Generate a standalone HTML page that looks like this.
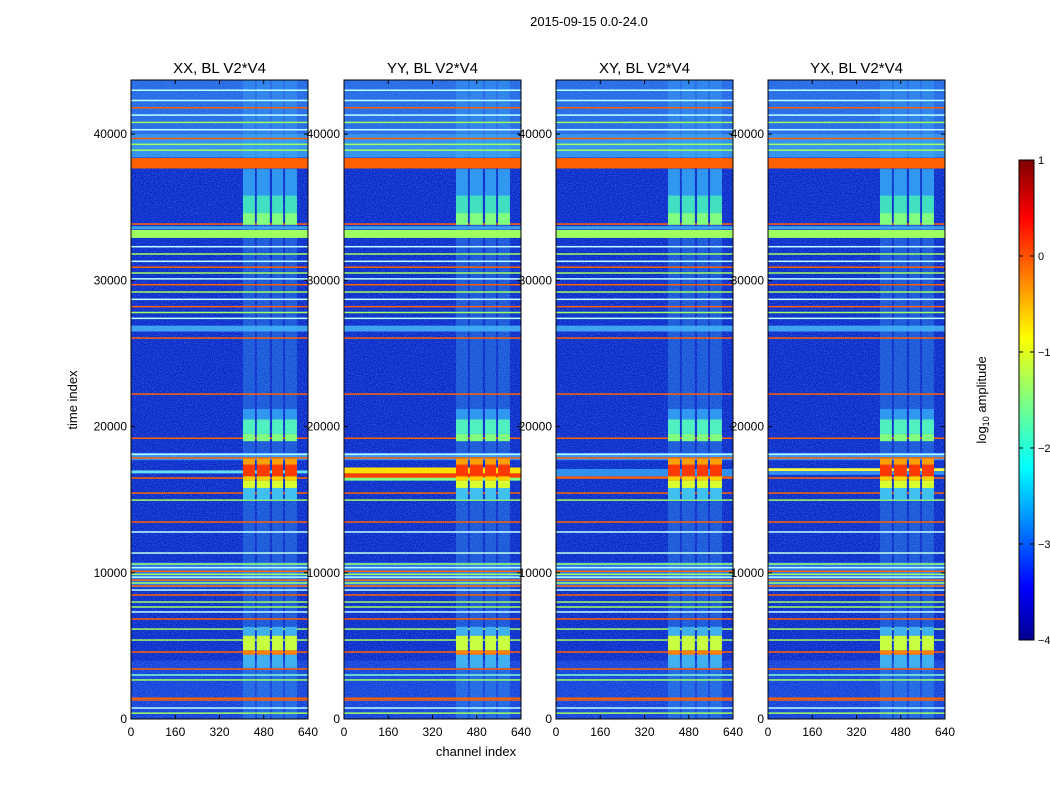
<!DOCTYPE html>
<html><head><meta charset="utf-8">
<style>
body{margin:0;background:#fff;font-family:"Liberation Sans",sans-serif;}
svg text{font-family:"Liberation Sans",sans-serif;}
</style></head>
<body>
<svg id="fig" width="1050" height="800" xmlns="http://www.w3.org/2000/svg">
<defs>
<linearGradient id="jet" x1="0" y1="1" x2="0" y2="0">
<stop offset="0" stop-color="#00008f"/><stop offset="0.11" stop-color="#0000ff"/>
<stop offset="0.36" stop-color="#00ffff"/><stop offset="0.5" stop-color="#80ff80"/>
<stop offset="0.63" stop-color="#ffff00"/><stop offset="0.88" stop-color="#ff0000"/>
<stop offset="1" stop-color="#800000"/></linearGradient>
<filter id="noise" x="0" y="0" width="1" height="1"><feTurbulence type="fractalNoise" baseFrequency="0.9" numOctaves="1" seed="3"/><feColorMatrix values="0 0 0 0 0.15  0 0 0 0 0.45  0 0 0 0 1  0 0 0 1.4 -0.55"/></filter>
</defs>
<text x="589" y="26" font-size="13" text-anchor="middle">2015-09-15 0.0-24.0</text>
<text x="476" y="756" font-size="13" text-anchor="middle">channel index</text>
<text transform="translate(77,400) rotate(-90)" font-size="13" text-anchor="middle">time index</text>
<g id="panels"></g>
<g>
<rect x="1019" y="160" width="15" height="480" fill="url(#jet)" stroke="#000" stroke-width="1"/>
<g id="cbticks"></g>
<text transform="translate(986,400) rotate(-90)" font-size="13" text-anchor="middle">log<tspan font-size="9" dy="3">10</tspan><tspan dy="-3"> amplitude</tspan></text>
</g>
</svg>
<script>
const panelTitles=["XX, BL V2*V4","YY, BL V2*V4","XY, BL V2*V4","YX, BL V2*V4"];
const panelLeft=[131,344,556,768];
const yTicks=[0,10000,20000,30000,40000];
const xTicks=[0,160,320,480,640];
const cbTicks=[1,0,-1,-2,-3,-4];
const bgRegions=[[0,43700,"#0a28c8"],[39000,43700,"#2468e4"],[38400,40000,"#3090ec"],[26500,26900,"#3aa0f0"],[9000,10700,"#2470e8"],[17700,18200,"#3090f0"],[0,4000,"#1440d8"]];
const bandChannels=[[405,448],[455,502],[510,550],[557,600]];
const patches=[[3500,4400,"#40b0f0"],[4400,4700,"#ff8000"],[4700,5700,"#c8ff40"],[5700,6300,"#40b0f0"],[15000,15800,"#40c0f0"],[15800,16300,"#d8ff30"],[16300,16600,"#ffd000"],[16600,17400,"#ff3a00"],[17400,17800,"#ffa000"],[19000,19500,"#80ff80"],[19500,20500,"#50f0c0"],[20500,21200,"#3098f0"],[33800,34600,"#80ff80"],[34600,35800,"#40e0c0"],[35800,37600,"#3098f0"]];
const lineTimes=[400,750,1300,1420,2670,3010,3420,4580,5400,6150,6840,7320,7660,8000,8480,8820,9100,9300,9500,9700,9900,10100,10350,10600,11350,12790,13470,14970,15450,16480,17850,18100,19200,22220,26050,27400,27800,28200,28700,29200,29700,30100,30500,30900,31300,31800,32300,33850,38900,39300,39700,40300,40800,41300,41800,42300,43000];
const lineColors=["#a0ff60","#c0ffff","#ff6000","#ff6000","#a0ff60","#80ffd0","#ff6000","#ff6000","#a0ff60","#a0ff60","#ff6000","#c0ffff","#a0ff60","#a0ff60","#ff6000","#c0ffff","#ff6000","#a0ff60","#ff6000","#c0ffff","#a0ff60","#ff6000","#c0ffff","#a0ff60","#c0ffff","#c0ffff","#ff6000","#a0ff60","#ff6000","#ff6000","#ff6000","#c0ffff","#ff6000","#ff6000","#ff6000","#c0ffff","#a0ff60","#ff6000","#c0ffff","#a0ff60","#ff6000","#c0ffff","#a0ff60","#ff6000","#c0ffff","#a0ff60","#c0ffff","#ff6000","#a0ff60","#a0ff60","#ff6000","#c0ffff","#a0ff60","#c0ffff","#ff6000","#c0ffff","#c0ffff"];
const wideBands=[[37650,38360,"#ff6000"],[32900,33450,"#a0ff60"],[33500,33700,"#3aa0f0"]];
const panelBands=[[[16800,17000,"#60e0f0"]],[[16500,16800,"#ff4000"],[16800,17200,"#ffe000"],[16300,16500,"#80ff80"]],[[16450,16600,"#ff6000"],[16600,17100,"#3090f0"]],[[16950,17150,"#ffff40"],[16700,16950,"#3090f0"]]];

const TMAX=43700, PW=177, PT=80, PB=719;
const ns="http://www.w3.org/2000/svg";
function yS(t){return PB-(t/TMAX)*(PB-PT);}
function el(tag,attrs,parent){const e=document.createElementNS(ns,tag);for(const k in attrs)e.setAttribute(k,attrs[k]);parent.appendChild(e);return e;}
const root=document.getElementById("panels");
panelLeft.forEach((L,pi)=>{
  const xS=c=>L+c/640*PW;
  const g=el("g",{},root);
  
  
  bgRegions.forEach(r=>{el("rect",{x:L,y:yS(r[1]),width:PW,height:yS(r[0])-yS(r[1]),fill:r[2]},g);});
  el("rect",{x:L,y:PT,width:PW,height:PB-PT,filter:"url(#noise)",opacity:0.7},g);
  bandChannels.forEach(b=>{
    const r=el("rect",{x:xS(b[0]),y:PT,width:xS(b[1])-xS(b[0]),height:PB-PT,fill:"#40b8f8",opacity:0.3},g);
    
    
  });
  lineTimes.forEach((t,i)=>{
    const r=el("rect",{x:L,y:yS(t)-0.75,width:PW,height:1.5,fill:lineColors[i]},g);
    
    
  });
  wideBands.concat(panelBands[pi]).forEach(w=>{
    el("rect",{x:L,y:yS(w[1]),width:PW,height:yS(w[0])-yS(w[1]),fill:w[2]},g);
  });
  bandChannels.forEach(b=>{patches.forEach(p=>{
    const r=el("rect",{x:xS(b[0]),y:yS(p[1]),width:xS(b[1])-xS(b[0]),height:yS(p[0])-yS(p[1]),fill:p[2]},g);
    
    
  });});
  el("rect",{x:L,y:PT,width:PW,height:PB-PT,fill:"none",stroke:"#000","stroke-width":1},g);
  const tt=el("text",{x:L+PW/2,y:73,"font-size":15,"text-anchor":"middle"},g);tt.textContent=panelTitles[pi];
  
  
  yTicks.forEach(t=>{
    el("line",{x1:L,x2:L+4,y1:yS(t),y2:yS(t),stroke:"#000"},g);
    el("line",{x1:L+PW,x2:L+PW-4,y1:yS(t),y2:yS(t),stroke:"#000"},g);
    const lb=el("text",{x:L-4,y:yS(t)+4,"font-size":12,"text-anchor":"end"},g);lb.textContent=t;
    
    
  });
  xTicks.forEach(c=>{
    el("line",{x1:xS(c),x2:xS(c),y1:PB,y2:PB-4,stroke:"#000"},g);
    el("line",{x1:xS(c),x2:xS(c),y1:PT,y2:PT+4,stroke:"#000"},g);
    const lb=el("text",{x:xS(c),y:PB+17,"font-size":12,"text-anchor":"middle"},g);lb.textContent=c;
    
    
  });
});
const cb=document.getElementById("cbticks");
cbTicks.forEach(v=>{
  const y=160+(1-v)/5*480;
  el("line",{x1:1019,x2:1023,y1:y,y2:y,stroke:"#000"},cb);
  el("line",{x1:1034,x2:1030,y1:y,y2:y,stroke:"#000"},cb);
  const lb=el("text",{x:1038,y:y+4,"font-size":11},cb);lb.textContent=v<0?"\u2212"+(-v):v;
  
  
});
</script>
</body></html>
